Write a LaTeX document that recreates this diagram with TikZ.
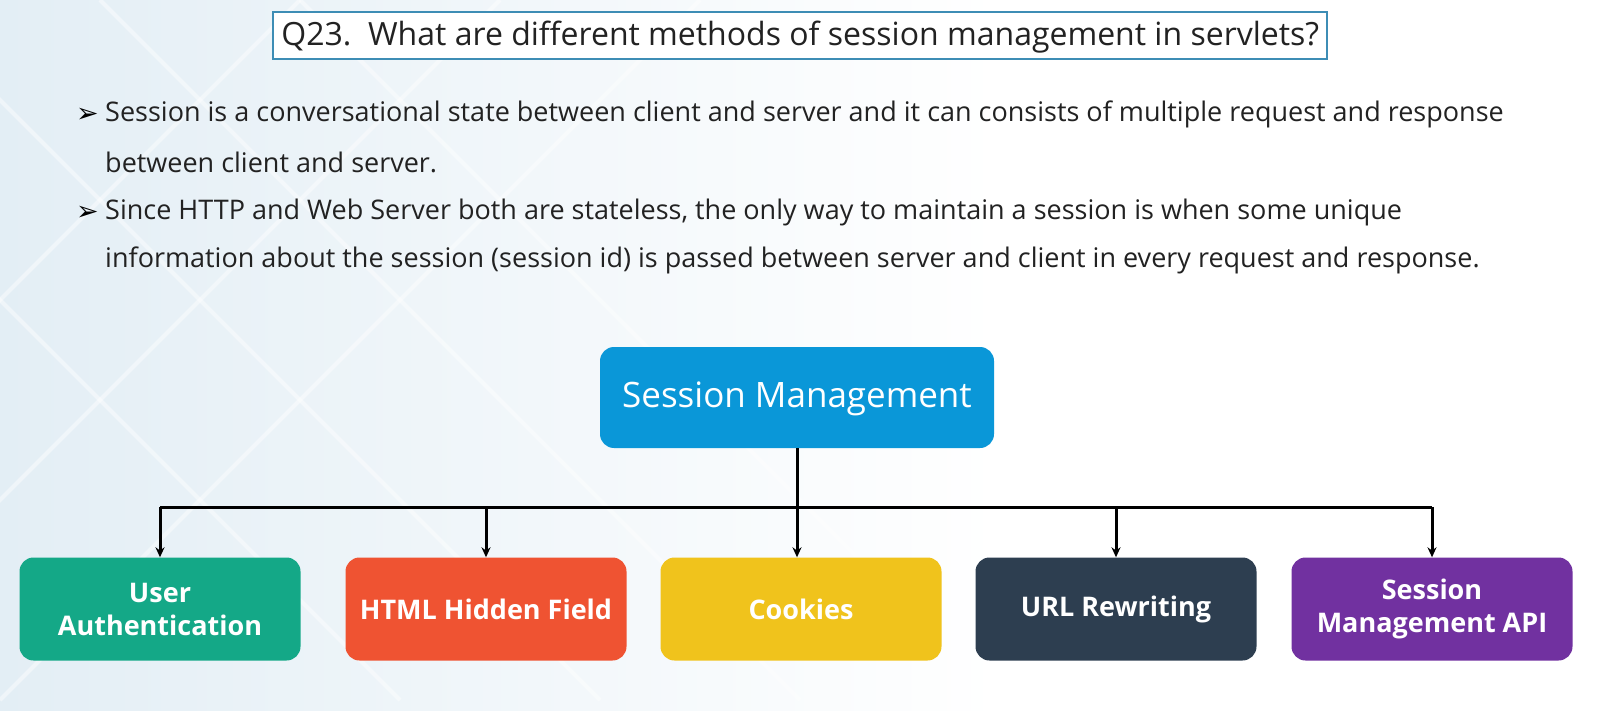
\documentclass[tikz,border=0pt]{standalone}
\usepackage{fontspec}
\setmainfont{Open Sans}
\newfontfamily\symfont{DejaVu Sans}
\usetikzlibrary{arrows.meta}
\definecolor{rootblue}{HTML}{0A97D8}
\definecolor{uagreen}{HTML}{14A887}
\definecolor{htmlred}{HTML}{EF5332}
\definecolor{cookyellow}{HTML}{F0C31C}
\definecolor{urlnavy}{HTML}{2D3E50}
\definecolor{apipurple}{HTML}{7131A0}
\definecolor{titleline}{HTML}{3D8DB5}
\definecolor{bgblue}{HTML}{E3EEF5}
\definecolor{textgrey}{HTML}{222222}

\begin{document}
\begin{tikzpicture}[x=1pt,y=-1pt,
   linetext/.style={anchor=west,inner sep=0pt,text=textgrey,font=\fontsize{27}{30}\selectfont},
   bulletmark/.style={anchor=west,inner sep=0pt,text=black,font=\symfont\fontsize{27}{30}\selectfont},
   leaf/.style={rounded corners=14pt,minimum width=281pt,minimum height=103pt,
      text=white,align=center,font=\bfseries\fontsize{27}{33}\selectfont},
   link/.style={line width=3pt,black},
   tip/.style={link,-{Stealth[length=10pt,width=9pt]}}]
   % canvas
   \useasboundingbox (0,0) rectangle (1598,711);
   \shade[left color=bgblue,right color=white] (0,0) rectangle (1000,711);
   \fill[white] (1000,0) rectangle (1598,711);
   \foreach \d in {-300,-100,100,300}
      \draw[white,line width=4pt,opacity=0.45] (\d,0) -- (\d+700,700);
   \foreach \d in {300,500,700}
      \draw[white,line width=4pt,opacity=0.45] (\d,0) -- (\d-700,700);
   % question
   \node[draw=titleline,line width=1.5pt,fill=white,minimum width=1054pt,minimum height=47pt,
      inner sep=0pt] (qbox) at (800,35.5) {};
   \node[anchor=west,inner sep=0pt,text=textgrey,font=\fontsize{32}{36}\selectfont]
      (qtext) at ([xshift=9pt,yshift=-2pt]qbox.west) {Q23.\ \ What are different methods of session management in servlets?};
   % bullets
   \node[bulletmark] (m1) at (76,115) {➢};
   \node[linetext] (b1a) at (105,114)
      {Session is a conversational state between client and server and it can consists of multiple request and response};
   \node[linetext] (b1b) at (105,162) {between client and server.};
   \node[bulletmark] (m2) at (76,213) {➢};
   \node[linetext] (b2a) at (105,212)
      {Since HTTP and Web Server both are stateless, the only way to maintain a session is when some unique};
   \node[linetext] (b2b) at (105,260)
      {information about the session (session id) is passed between server and client in every request and response.};
   % tree
   \node[rounded corners=14pt,fill=rootblue,minimum width=394pt,minimum height=101pt,
      text=white,font=\fontsize{35}{40}\selectfont] (root) at (797,397.5)
      {\raisebox{-10pt}[0pt][0pt]{Session Management}};
   \node[leaf,fill=uagreen]    (ua)   at (160,609)  {User\\Authentication};
   \node[leaf,fill=htmlred]    (html) at (486,609)  {HTML Hidden Field};
   \node[leaf,fill=cookyellow] (cook) at (801,609)  {Cookies};
   \node[leaf,fill=urlnavy]    (url)  at (1116,609) {URL Rewriting};
   \node[leaf,fill=apipurple]  (api)  at (1432,609) {Session\\Management API};
   \coordinate (bar) at (0,507);
   \draw[link] (root.south) -- (root.south |- bar);
   \draw[link] (ua.north |- bar) -- (api.north |- bar);
   \foreach \n in {ua,html,url,api}
      \draw[tip] (\n.north |- bar) -- (\n.north);
   \draw[tip] (root.south |- bar) -- (root.south |- cook.north);
\end{tikzpicture}
\end{document}
